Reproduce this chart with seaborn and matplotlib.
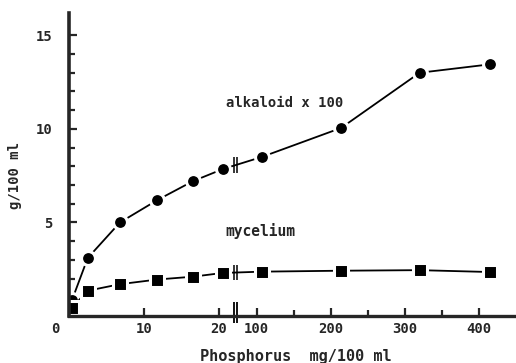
import numpy as np
import pandas as pd
import matplotlib
matplotlib.use("Agg")
import matplotlib.pyplot as plt
import seaborn as sns

# ---- data ----
phosphorus = [0.4, 2.5, 6.8, 11.8, 16.5, 20.5, 107, 214, 320, 415]
alkaloid_x100 = [0.85, 3.1, 5.0, 6.2, 7.2, 7.85, 8.5, 10.05, 13.0, 13.45]
mycelium = [0.45, 1.35, 1.7, 1.95, 2.1, 2.3, 2.37, 2.42, 2.45, 2.35]

xticks_major = [10, 20, 100, 200, 300, 400]
xticks_minor = [150, 250, 350]
yticks_major = [5, 10, 15]
yticks_minor = [1, 2, 3, 4, 6, 7, 8, 9, 11, 12, 13, 14]

# ---- broken x scale: 0-22 linear, 100-450 compressed ----
def fwd(x):
    x = np.asarray(x, dtype=float)
    return np.where(x <= 22, x,
                    np.where(x < 100, 22 + (x - 22) * 3.03 / 78,
                             25.03 + (x - 100) * 0.0988))

def inv(p):
    p = np.asarray(p, dtype=float)
    return np.where(p <= 22, p,
                    np.where(p < 25.03, 22 + (p - 22) * 78 / 3.03,
                             100 + (p - 25.03) / 0.0988))

sns.set_style("ticks")
plt.rcParams["font.family"] = ["DejaVu Sans Mono", "DejaVu Sans"]
plt.rcParams["font.weight"] = "bold"

fig = plt.figure(figsize=(5.16, 3.63), dpi=100)
ax = fig.add_axes([0.1337, 0.1295, 0.866, 0.835])
ax.set_xscale("function", functions=(fwd, inv))

df = pd.DataFrame({"P": phosphorus, "alk": alkaloid_x100, "myc": mycelium})

sns.lineplot(data=df, x="P", y="alk", ax=ax, color="black", lw=1.3,
             marker="o", markersize=10, markeredgecolor="white",
             markeredgewidth=2.2, markerfacecolor="black")
sns.lineplot(data=df, x="P", y="myc", ax=ax, color="black", lw=1.3,
             marker="s", markersize=9.5, markeredgecolor="white",
             markeredgewidth=2.2, markerfacecolor="black")

ax.set_xlim(0, float(inv(59.6)))
ax.set_ylim(0, 16.2)

# spines
sns.despine(ax=ax)
ax.spines["left"].set_linewidth(2.6)
ax.spines["bottom"].set_linewidth(2.4)

# ticks
ax.set_xticks(xticks_major)
ax.set_xticklabels([str(t) for t in xticks_major])
ax.set_xticks(xticks_minor, minor=True)
ax.set_yticks(yticks_major)
ax.set_yticklabels([str(t) for t in yticks_major])
ax.set_yticks(yticks_minor, minor=True)
ax.tick_params(axis="both", which="major", direction="in", length=6,
               width=1.6, labelsize=10)
ax.tick_params(axis="both", which="minor", direction="in", length=4,
               width=1.6)
ax.tick_params(axis="x", which="major", pad=4)
ax.tick_params(axis="y", which="major", pad=12)
for lab in ax.get_xticklabels() + ax.get_yticklabels():
    lab.set_fontweight("bold")

ax.annotate("0", xy=(0, 0), xytext=(-10, -4.3), textcoords="offset points",
            ha="center", va="top", fontsize=10, fontweight="bold",
            annotation_clip=False)

# axis labels
ax.set_xlabel("Phosphorus  mg/100 ml", fontsize=11, fontweight="bold")
ax.xaxis.set_label_coords(0.508, -0.109)
ax.xaxis.label.set_va("top")
ax.set_ylabel("g/100 ml", fontsize=10, fontweight="bold")
ax.yaxis.set_label_coords(-0.105, 0.465)

# series labels
ax.text(0.351, 0.69, "alkaloid x 100", transform=ax.transAxes,
        fontsize=10, fontweight="bold", ha="left", va="baseline")
ax.text(0.351, 0.264, "mycelium", transform=ax.transAxes,
        fontsize=10.5, fontweight="bold", ha="left", va="baseline")

# break marks (decoration at the scale break)
bx = [float(inv(21.95)), float(inv(22.4))]
px = fwd(phosphorus)
for series in (alkaloid_x100, mycelium):
    yb = float(np.interp(22.2, px, series))
    for b in bx:
        ax.plot([b, b], [yb - 0.42, yb + 0.42], color="black", lw=1.1,
                solid_capstyle="butt")
for b in bx:
    ax.plot([b, b], [-0.37, 0.75], color="black", lw=1.3, clip_on=False,
            solid_capstyle="butt")

fig.savefig("out.png", dpi=100)
